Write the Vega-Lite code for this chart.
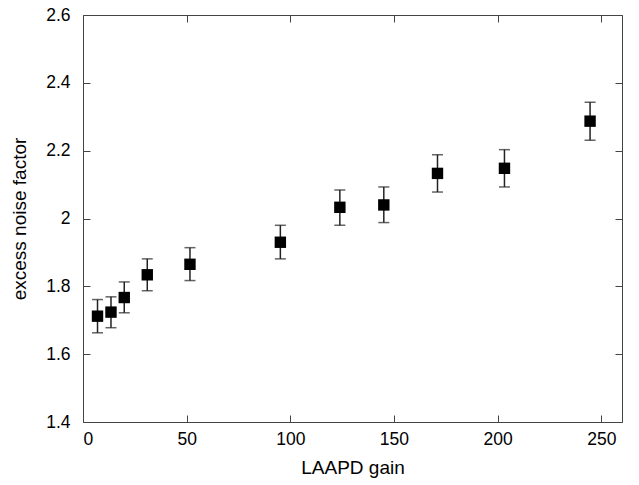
{
  "$schema": "https://vega.github.io/schema/vega-lite/v6.json",
  "width": 539,
  "height": 407,
  "autosize": {"type": "none"},
  "padding": {"left": 83, "top": 15, "right": 17, "bottom": 63},
  "background": "white",
  "config": {
    "view": {"stroke": "#444", "strokeWidth": 1},
    "font": "Liberation Sans",
    "axis": {
      "grid": false,
      "domain": false,
      "tickColor": "#444",
      "tickSize": -7,
      "labelFont": "Liberation Sans",
      "titleFont": "Liberation Sans",
      "labelFontSize": 17.5,
      "titleFontSize": 19,
      "labelColor": "black",
      "titleColor": "black",
      "titleFontWeight": "normal"
    }
  },
  "data": {
    "values": [
      {"gain": 7, "enf": 1.712, "lo": 1.663, "hi": 1.761},
      {"gain": 13.5, "enf": 1.724, "lo": 1.678, "hi": 1.769},
      {"gain": 19.9, "enf": 1.767, "lo": 1.722, "hi": 1.813},
      {"gain": 31, "enf": 1.834, "lo": 1.787, "hi": 1.881},
      {"gain": 51.6, "enf": 1.865, "lo": 1.817, "hi": 1.914},
      {"gain": 95.2, "enf": 1.930, "lo": 1.881, "hi": 1.980},
      {"gain": 123.9, "enf": 2.033, "lo": 1.980, "hi": 2.084},
      {"gain": 145.1, "enf": 2.040, "lo": 1.988, "hi": 2.093},
      {"gain": 171, "enf": 2.133, "lo": 2.078, "hi": 2.188},
      {"gain": 203.3, "enf": 2.148, "lo": 2.093, "hi": 2.203},
      {"gain": 244.6, "enf": 2.287, "lo": 2.231, "hi": 2.343}
    ]
  },
  "layer": [
    {
      "mark": {"type": "rule", "color": "#222", "strokeWidth": 1.5},
      "encoding": {
        "x": {"field": "gain", "type": "quantitative", "scale": {"domain": [0, 250]},
              "axis": {"title": "LAAPD gain", "values": [0, 50, 100, 150, 200, 250], "labelPadding": 15, "titlePadding": 11}},
        "y": {"field": "lo", "type": "quantitative", "scale": {"domain": [1.4, 2.6]},
              "axis": {"title": "excess noise factor", "format": "~g", "values": [1.4, 1.6, 1.8, 2.0, 2.2, 2.4, 2.6], "labelPadding": 20, "titlePadding": 16}},
        "y2": {"field": "hi"}
      }
    },
    {
      "mark": {"type": "tick", "color": "#222", "orient": "horizontal", "size": 11, "thickness": 1.5},
      "encoding": {
        "x": {"field": "gain", "type": "quantitative", "scale": {"domain": [0, 250]},
              "axis": {"orient": "top", "labels": false, "title": null, "values": [0, 50, 100, 150, 200, 250]}},
        "y": {"field": "lo", "type": "quantitative", "scale": {"domain": [1.4, 2.6]},
              "axis": {"orient": "right", "labels": false, "title": null, "values": [1.4, 1.6, 1.8, 2.0, 2.2, 2.4, 2.6]}}
      }
    },
    {
      "mark": {"type": "tick", "color": "#222", "orient": "horizontal", "size": 11, "thickness": 1.5},
      "encoding": {
        "x": {"field": "gain", "type": "quantitative", "axis": null},
        "y": {"field": "hi", "type": "quantitative", "axis": null}
      }
    },
    {
      "mark": {"type": "square", "color": "black", "opacity": 1, "filled": true, "size": 130},
      "encoding": {
        "x": {"field": "gain", "type": "quantitative", "axis": null},
        "y": {"field": "enf", "type": "quantitative", "axis": null}
      }
    }
  ],
  "resolve": {"axis": {"x": "independent", "y": "independent"}}
}
